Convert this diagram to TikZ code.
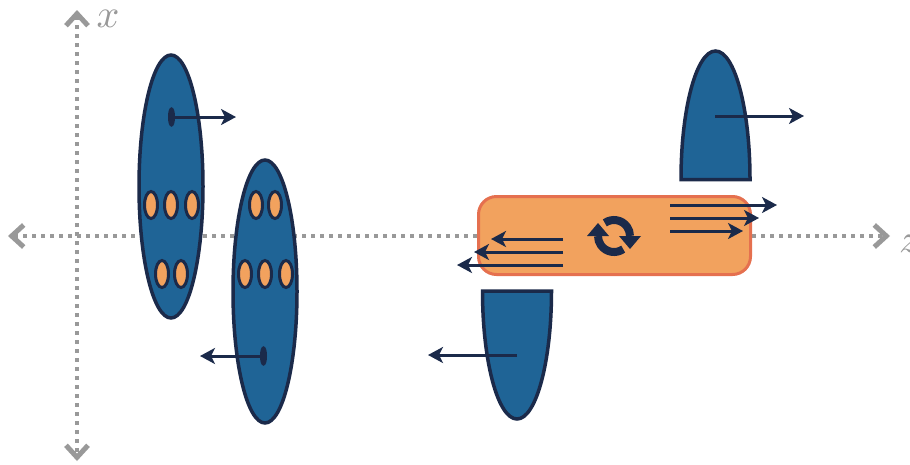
\documentclass[tikz,border=0pt]{standalone}
\usepackage{amssymb,graphicx}
\usetikzlibrary{arrows.meta,shapes.geometric}

\definecolor{navy}{RGB}{27,42,74}
\definecolor{cblue}{RGB}{31,100,150}
\definecolor{corange}{RGB}{242,162,94}
\definecolor{ccoral}{RGB}{229,112,79}
\definecolor{axisgray}{RGB}{153,153,153}

\tikzset{
 axis/.style={draw=axisgray, line width=4pt, dash pattern=on 4pt off 5pt,
   {Straight Barb[length=12pt,width=22pt,line width=5pt]}-{Straight Barb[length=12pt,width=22pt,line width=5pt]}},
 blob/.style={ellipse, fill=cblue, draw=navy, line width=3.5pt, inner sep=0pt,
   minimum width=64pt, minimum height=263pt},
 spot/.style={ellipse, fill=corange, draw=navy, line width=3pt, inner sep=0pt,
   minimum width=13pt, minimum height=27pt},
 half/.style={fill=cblue, draw=navy, line width=3.5pt},
 flow/.style={draw=navy, line width=3pt, -{Stealth[length=15pt,width=16pt,inset=4pt]}},
 kick/.style={flow, {Ellipse[length=7pt,width=19pt]}-{Stealth[length=15pt,width=16pt,inset=4pt]}},
}

\begin{document}
\begin{tikzpicture}[x=1pt,y=1pt]
 \useasboundingbox (0,0) rectangle (910,-464);

 \draw[axis] (8,-236) -- (890,-236);
 \draw[axis] (77,-10) -- (77,-461);
 \node[text=axisgray, inner sep=0pt] (LX) at (108,-19) {\scalebox{4}{$x$}};
 \node[text=axisgray, inner sep=0pt, anchor=west] (LZ) at (899,-244) {\scalebox{4}{$z$}};

 \node[blob] (E1) at (171,-186.5) {};
 \node[blob] (E2) at (265,-291.5) {};

 \node[spot] (S1) at (151,-205) {};
 \node[spot] (S2) at (171,-205) {};
 \node[spot] (S3) at (192,-205) {};
 \node[spot] (S4) at (162,-274) {};
 \node[spot] (S5) at (181,-274) {};
 \node[spot] (S6) at (256,-205) {};
 \node[spot] (S7) at (275,-205) {};
 \node[spot] (S8) at (245,-274) {};
 \node[spot] (S9) at (265,-274) {};
 \node[spot] (S10) at (286,-274) {};

 \coordinate (K1) at (168,-117);
 \coordinate (K2) at (236,-117);
 \coordinate (K3) at (267,-356);
 \coordinate (K4) at (200,-356);
 \path (K1) edge[kick] (K2) (K3) edge[kick] (K4);

 \draw[half] (681,-179.5) arc[start angle=180, end angle=0, x radius=34.5, y radius=128.5] -- cycle;
 \draw[half] (482.5,-291) arc[start angle=180, end angle=360, x radius=34.5, y radius=128] -- cycle;
 \coordinate (H1) at (715,-116);
 \coordinate (H2) at (804,-116);
 \coordinate (H3) at (517,-355);
 \coordinate (H4) at (428,-355);
 \path (H1) edge[flow] (H2) (H3) edge[flow] (H4);

 \node[rectangle, rounded corners=18pt, fill=corange, draw=ccoral, line width=3pt,
   minimum width=272pt, minimum height=78pt] (B) at (614.5,-235.5) {};

 \coordinate (L1) at (563,-239);
 \coordinate (L2) at (491,-239);
 \coordinate (L3) at (563,-252);
 \coordinate (L4) at (474,-252);
 \coordinate (L5) at (563,-265);
 \coordinate (L6) at (457,-265);
 \path (L1) edge[flow] (L2) (L3) edge[flow] (L4) (L5) edge[flow] (L6);

 \coordinate (R1) at (670,-205);
 \coordinate (R2) at (777,-205);
 \coordinate (R3) at (670,-218);
 \coordinate (R4) at (759,-218);
 \coordinate (R5) at (670,-231);
 \coordinate (R6) at (743,-231);
 \path (R1) edge[flow] (R2) (R3) edge[flow] (R4) (R5) edge[flow] (R6);

 \coordinate (C) at (614,-236);
 \draw[navy, line width=8pt] (C) ++(125:16) arc[start angle=125, end angle=0, radius=16];
 \draw[navy, line width=8pt] (C) ++(305:16) arc[start angle=305, end angle=180, radius=16];
 \fill[navy] (C) ++(5,0) -- ++(22,0) -- ++(-11,-13) -- cycle;
 \fill[navy] (C) ++(-5,0) -- ++(-22,0) -- ++(11,13) -- cycle;
\end{tikzpicture}
\end{document}
